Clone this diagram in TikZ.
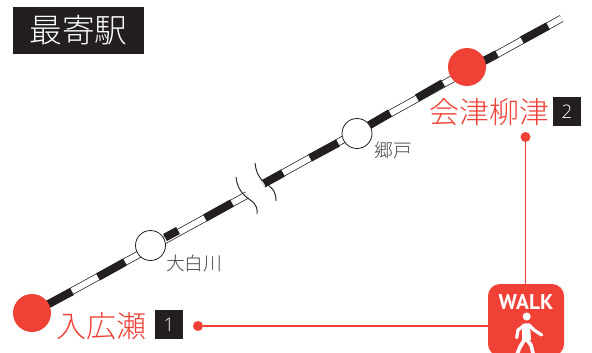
\documentclass[tikz,border=0pt]{standalone}
\usepackage{fontspec}
\usepackage{tikz}
\usetikzlibrary{positioning}
\setmainfont{Noto Sans CJK JP Light}
\newfontfamily\numfont{Open Sans Light}
\newfontfamily\walkfont{PT Sans}
\definecolor{stopred}{HTML}{EF4136}
\definecolor{boxblack}{HTML}{231F20}

\tikzset{
    mainstop/.style={circle, fill=stopred, inner sep=0pt, minimum size=28.5pt},
    substop/.style={circle, draw=boxblack, line width=.6pt, fill=white, inner sep=0pt, minimum size=22.5pt},
    mainname/.style={text=stopred, font=\fontsize{22.5}{24}\selectfont, inner sep=0pt},
    subname/.style={text=boxblack!85, font=\fontsize{14}{16}\selectfont, inner sep=0pt},
    numbox/.style={fill=boxblack, text=white, font=\numfont\fontsize{14}{15}\selectfont, inner sep=0pt, minimum size=21.5pt},
    walkdot/.style={circle, fill=stopred, inner sep=0pt, minimum size=7.5pt},
    walkline/.style={draw=stopred, line width=1.1pt},
    railbase/.style={draw=boxblack, line width=5.6pt},
    railwhite/.style={draw=white, line width=4.5pt},
    railblack/.style={draw=boxblack, line width=6pt},
    breakline/.style={draw=boxblack, line width=.7pt},
}

\begin{document}
\begin{tikzpicture}[x=.75pt, y=-.75pt]
    \useasboundingbox (0,0) rectangle (592,353);

    % rail
    \coordinate (railstart) at (32,313);
    \coordinate (breakleft) at (247,195);
    \coordinate (breakright) at (263,184);
    \coordinate (railend) at (561.5,18.5);
    \draw[railbase] (railstart) -- (breakleft);
    \draw[railwhite] (railstart) -- (breakleft);
    \draw[railbase] (breakright) -- (railend);
    \draw[railwhite] (breakright) -- (railend);
    \foreach \xa/\ya/\xb/\yb in {32/313/72/291.5, 98/277/125/262, 165/237.5/178/230.5, 205/218/232/203,
        264/183.5/283/173, 310/158/338/143, 368/126/390/113, 417/98/443/83, 470/68/497/54, 522/40/548/26}
        \draw[railblack] (\xa,\ya) -- (\xb,\yb);

    % break
    \draw[breakline] (236,177) .. controls (237,186) and (240,191) .. (245,196)
        .. controls (252,202) and (258,203) .. (257,214);
    \draw[breakline] (255,163) .. controls (256,172) and (259,178) .. (264,182)
        .. controls (271,187) and (276,190) .. (276,201);

    % stations
    \node (irihirose) [mainstop] at (32,313) {};
    \node (yanaizu) [mainstop] at (467,67) {};
    \node (shirakawa) [substop] at (150.5,245.5) {};
    \node (godo) [substop] at (357,133.5) {};

    % names
    \node (irihirosename) [mainname] at (101,326) {入広瀬};
    \node (yanaizuname) [mainname] at (489,112) {会津柳津};
    \node (shirakawaname) [subname] at (194,263) {大白川};
    \node (godoname) [subname] at (393,150) {郷戸};
    \node (numone) [numbox] at (169,324.5) {1};
    \node (numtwo) [numbox] at (567,111.5) {2};

    % title
    \node (title) [fill=boxblack, text=white, inner sep=0pt, minimum width=98.5pt, minimum height=35.5pt,
        font=\fontsize{24.5}{26}\selectfont] at (78.5,30.5) {最寄駅};

    % walk
    \node (walk) [fill=stopred, rounded corners=9pt, inner sep=0pt, minimum width=57pt, minimum height=54pt] at (526,320) {};
    \node (walktext) [text=white, inner sep=0pt, font=\walkfont\bfseries\fontsize{16}{18}\selectfont] at (526,302) {WALK};
    \node (walkhead) [circle, fill=white, inner sep=0pt, minimum size=6pt] at (526.7,316.5) {};
    \draw[draw=white, line width=2.4pt, line join=round, line cap=round]
        (516.7,337.7) -- (518,330) -- (525,325) -- (529,325) -- (534,330) -- (541.7,335);
    \fill[white] (522,324) -- (530,324) -- (531,340) -- (522,340) -- cycle;
    \draw[draw=white, line width=2.8pt, line join=round]
        (516.7,355) -- (520,347) -- (525.5,338) -- (531,345) -- (533.5,355);

    \node (dotone) [walkdot] at (198,326) {};
    \node (dottwo) [walkdot] at (525.5,137) {};
    \draw[walkline] (dotone) -- (dotone -| walk.west);
    \draw[walkline] (dottwo) -- (dottwo |- walk.north);
\end{tikzpicture}
\end{document}
